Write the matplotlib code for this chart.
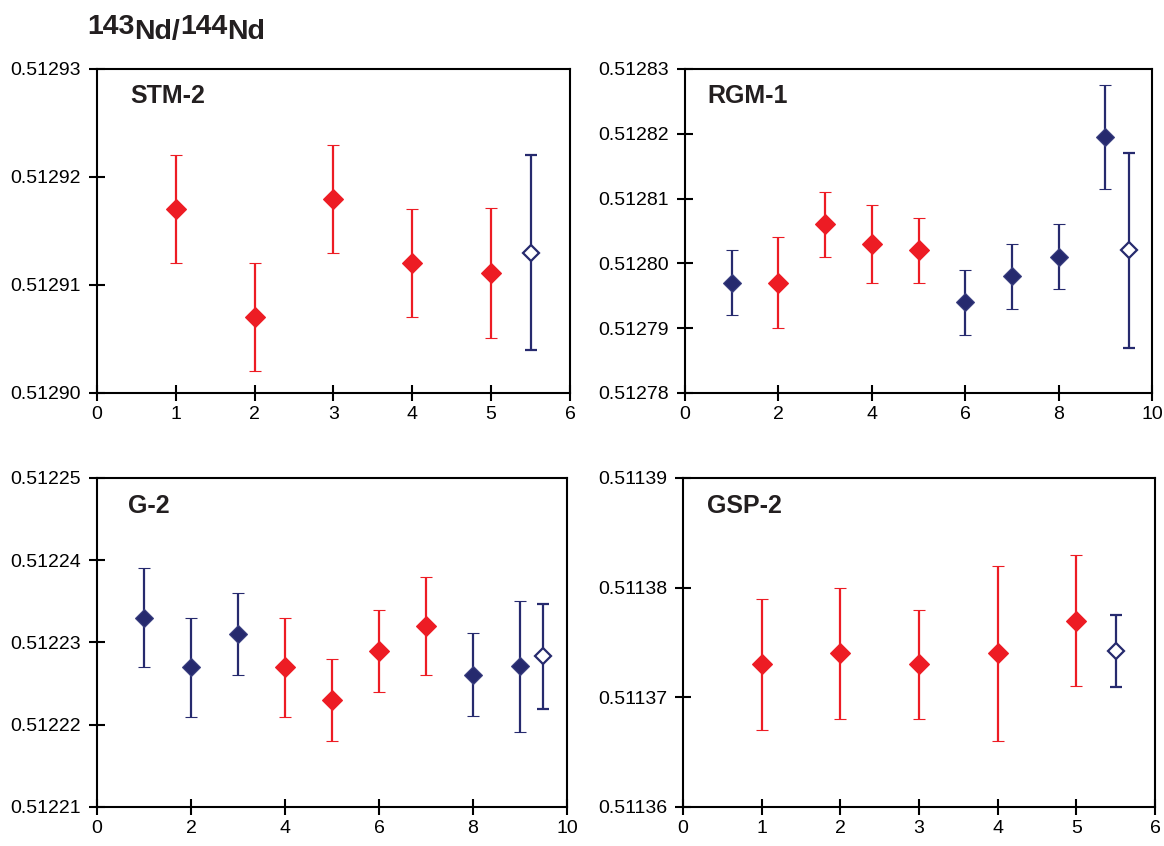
import matplotlib
matplotlib.use("Agg")
import matplotlib.pyplot as plt
from matplotlib.ticker import FormatStrFormatter
from matplotlib.transforms import offset_copy

plt.rcParams["font.family"] = ["Liberation Sans", "DejaVu Sans"]

RED = "#ed1c24"
NAVY = "#262a6e"

# STM-2
stm_x = [1, 2, 3, 4, 5]
stm_y = [0.512917, 0.512907, 0.512918, 0.512912, 0.5129111]
stm_err = [0.000005, 0.000005, 0.000005, 0.000005, 0.000006]
stm_c = ["r", "r", "r", "r", "r"]
stm_mean = (5.5, 0.512913, 0.000009)

# RGM-1
rgm_x = [1, 2, 3, 4, 5, 6, 7, 8, 9]
rgm_y = [0.512797, 0.512797, 0.512806, 0.512803, 0.512802, 0.512794, 0.512798, 0.512801, 0.5128195]
rgm_err = [0.000005, 0.000007, 0.000005, 0.000006, 0.000005, 0.000005, 0.000005, 0.000005, 0.000008]
rgm_c = ["b", "r", "r", "r", "r", "b", "b", "b", "b"]
rgm_mean = (9.5, 0.512802, 0.000015)

# G-2
g2_x = [1, 2, 3, 4, 5, 6, 7, 8, 9]
g2_y = [0.512233, 0.512227, 0.512231, 0.512227, 0.512223, 0.512229, 0.512232, 0.5122261, 0.5122271]
g2_err = [0.000006, 0.000006, 0.000005, 0.000006, 0.000005, 0.000005, 0.000006, 0.000005, 0.000008]
g2_c = ["b", "b", "b", "r", "r", "r", "r", "b", "b"]
g2_mean = (9.5, 0.5122283, 0.0000064)

# GSP-2
gsp_x = [1, 2, 3, 4, 5]
gsp_y = [0.511373, 0.511374, 0.511373, 0.511374, 0.511377]
gsp_err = [0.000006, 0.000006, 0.000005, 0.000008, 0.000006]
gsp_c = ["r", "r", "r", "r", "r"]
gsp_mean = (5.5, 0.5113742, 0.0000033)

# title pieces: (text, raised?)
title_parts = [("143", True), ("Nd/", False), ("144", True), ("Nd", False)]

panels = [
    # name, x, y, err, colours, mean, xmax, xstep, ylo, yhi, axes rect, label x
    ("STM-2", stm_x, stm_y, stm_err, stm_c, stm_mean, 6, 1, 0.51290, 0.51293,
     [0.0833, 0.5355, 0.4064, 0.3830], 0.07),
    ("RGM-1", rgm_x, rgm_y, rgm_err, rgm_c, rgm_mean, 10, 2, 0.51278, 0.51283,
     [0.5885, 0.5355, 0.4012, 0.3830], 0.047),
    ("G-2", g2_x, g2_y, g2_err, g2_c, g2_mean, 10, 2, 0.51221, 0.51225,
     [0.0833, 0.0461, 0.4038, 0.3889], 0.066),
    ("GSP-2", gsp_x, gsp_y, gsp_err, gsp_c, gsp_mean, 6, 1, 0.51136, 0.51139,
     [0.5868, 0.0461, 0.4055, 0.3889], 0.05),
]

fig = plt.figure(figsize=(11.64, 8.46), dpi=100)

for name, xs, ys, errs, cs, mean, xmax, xstep, ylo, yhi, rect, lx in panels:
    ax = fig.add_axes(rect)
    for x, y, e, c in zip(xs, ys, errs, cs):
        col = RED if c == "r" else NAVY
        ms = 10.5 if c == "r" else 9.5
        ax.errorbar(x, y, yerr=e, fmt="D", color=col, ms=ms, mec=col if c == "r" else "#3a3f80",
                    mew=0.8, elinewidth=1.6, capsize=4, capthick=1.6, zorder=3)
    mx, my, me = mean
    ax.errorbar(mx, my, yerr=me, fmt="D", color=NAVY, ms=8, mfc="white", mec=NAVY,
                mew=1.6, elinewidth=1.6, capsize=4, capthick=1.6, zorder=3)

    ax.set_xlim(0, xmax)
    ax.set_ylim(ylo, yhi)
    ax.set_xticks(range(0, xmax + 1, xstep))
    n = round((yhi - ylo) / 0.00001)
    ax.set_yticks([ylo + i * 0.00001 for i in range(n + 1)])
    ax.yaxis.set_major_formatter(FormatStrFormatter("%.5f"))
    ax.tick_params(direction="inout", length=11, width=1.5, labelsize=14, pad=6)
    ax.tick_params(axis="x", pad=4)
    for sp in ax.spines.values():
        sp.set_linewidth(1.5)
    ax.text(lx, 0.915, name, transform=ax.transAxes, fontsize=18, fontweight="bold",
            color="#231f20", va="center", ha="left")

# title: superscript numbers at the same size, just raised
fig.canvas.draw()
renderer = fig.canvas.get_renderer()
x0 = 87 / 1164
base = 1 - 39 / 846
dx = 0
for txt, up in title_parts:
    tr = offset_copy(fig.transFigure, fig=fig, x=dx, y=5 if up else 0, units="dots")
    t = fig.text(x0, base, txt, transform=tr, fontsize=20.5, fontweight="bold",
                 color="#231f20", ha="left", va="baseline")
    dx += t.get_window_extent(renderer).width

fig.savefig("out.png", dpi=100)
